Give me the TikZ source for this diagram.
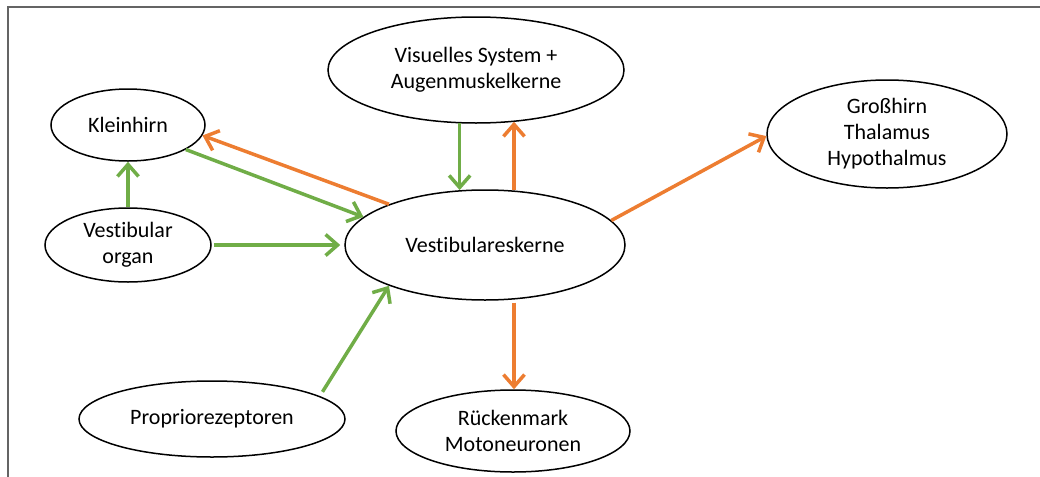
\documentclass[tikz,border=0pt]{standalone}
\usepackage{fontspec}
\setmainfont{Carlito}[Ligatures=NoCommon]
\usepackage{tikz}
\usetikzlibrary{shapes,arrows,arrows.meta,positioning,calc}

\definecolor{afferentgreen}{RGB}{112,173,71}
\definecolor{efferentorange}{RGB}{237,125,49}
\definecolor{framegray}{RGB}{100,100,100}

\tikzset{
  organ/.style={draw,ellipse,line width=0.75pt,inner sep=0pt,align=center,
    font=\fontsize{11}{13}\selectfont},
  afferent/.style={draw=afferentgreen,line width=1.75pt,
    -{Straight Barb[length=6pt,width=10.5pt]}},
  efferent/.style={draw=efferentorange,line width=1.75pt,
    -{Straight Barb[length=6pt,width=10.5pt]}}
}

\begin{document}
\begin{tikzpicture}[x=0.5pt,y=-0.5pt]
      \useasboundingbox (0,0) rectangle (1040,477);
      \draw[framegray,line width=0.75pt] (8,477) -- (8,7) -- (1040,7);

      \coordinate (k) at (128,125);
      \coordinate (v) at (476,70);
      \coordinate (g) at (887,134);
      \coordinate (o) at (128,245);
      \coordinate (z) at (485,245);
      \coordinate (p) at (212,419);
      \coordinate (r) at (513,431);

      \node[organ,minimum width=77pt,minimum height=36pt] (kn) at (k) {Kleinhirn};
      \node[organ,minimum width=148pt,minimum height=53pt] (vn) at (v) {Visuelles System +\\Augenmuskelkerne};
      \node[organ,minimum width=120pt,minimum height=54pt] (gn) at (g) {Großhirn\\Thalamus\\Hypothalmus};
      \node[organ,minimum width=83pt,minimum height=37pt] (on) at (o) {Vestibular\\organ};
      \node[organ,minimum width=140pt,minimum height=55pt] (zn) at (z) {Vestibulareskerne};
      \node[organ,minimum width=133pt,minimum height=38pt] (pn) at (p) {Propriorezeptoren};
      \node[organ,minimum width=117pt,minimum height=41pt] (rn) at (r) {Rückenmark\\Motoneuronen};

      % zu den Vestibulariskernen
      \draw[afferent] (on.north) -- (kn.south);
      \draw[afferent] (kn.-23) -- (zn.167);
      \draw[afferent,shorten <=1pt,shorten >=2pt] (on.east) -- (zn.west);
      \draw[afferent] (vn.-107) -- (vn.-107 |- zn.114);
      \draw[afferent,shorten <=2.5pt] (pn.12) -- (zn.-157);

      % von den Vestibulariskernen
      \draw[efferent] (zn.157) -- (kn.-8);
      \draw[efferent] (zn.62) -- (zn.62 |- vn.-52);
      \draw[efferent] (zn.11) -- (gn.181);
      \draw[efferent,shorten <=1.5pt] (zn.-62) -- (zn.-62 |- rn.north);

    \end{tikzpicture}
\end{document}
